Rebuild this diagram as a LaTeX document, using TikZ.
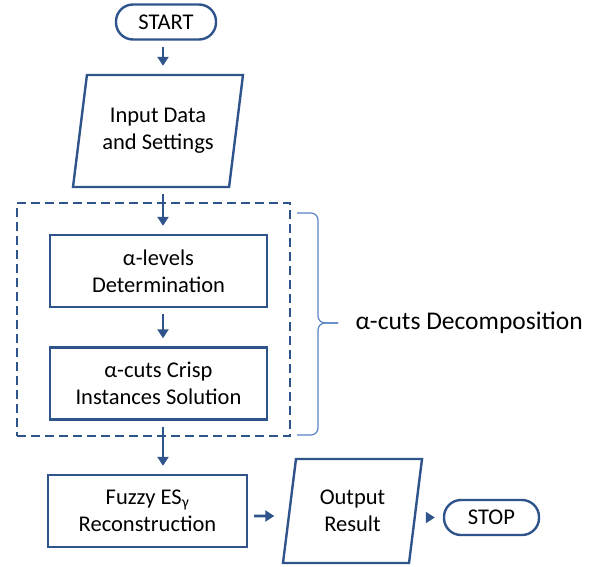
\documentclass[tikz,border=0pt]{standalone}
\usepackage{fontspec}
\setmainfont{Carlito}
\usetikzlibrary{shapes.geometric,arrows.meta}

\definecolor{flowblue}{RGB}{47,84,140}
\definecolor{braceblue}{RGB}{86,130,195}

\tikzset{
  txt/.style={align=center, font=\fontsize{22.5}{27}\selectfont},
  procbox/.style={txt, draw=flowblue, line width=2.4pt, minimum width=217pt, minimum height=72pt},
  termbox/.style={txt, draw=flowblue, line width=2.4pt, rounded corners=17pt, minimum width=100pt, minimum height=35pt},
  iobox/.style={txt, draw=flowblue, line width=2.4pt, trapezium, trapezium left angle=75, trapezium right angle=105, trapezium stretches body=true},
  flow/.style={draw=flowblue, line width=2.8pt, -{Triangle[length=9pt,width=11pt]}, shorten <=6pt, shorten >=8pt}
}

\begin{document}
\begin{tikzpicture}[x=1pt,y=1pt]
        \useasboundingbox (0,0) rectangle (601,566);
        \coordinate (axis) at (163,0);
        % main column
        \node[termbox] (start) at (166,544) {START};
        \node[iobox, minimum width=170pt, minimum height=112pt] (input) at (158,435) {Input Data\\and Settings};
        \node[draw=flowblue, line width=2.4pt, dash pattern=on 9pt off 5pt, minimum width=273pt, minimum height=233pt] (group) at (153.5,246.5) {};
        \node[procbox] (levels) at (158.5,295) {α-levels\\Determination};
        \node[procbox] (crisp) at (158.5,182.5) {α-cuts Crisp\\Instances Solution};
        \node[procbox, minimum width=199pt] (fuzzy) at (147.5,55) {Fuzzy ES\textsubscript{γ}\\Reconstruction};
        \node[iobox, minimum width=139pt, minimum height=104pt] (output) at (352.5,55) {Output\\Result};
        \node[termbox, minimum width=95pt] (stop) at (491.5,48.5) {STOP};
        % brace
        \coordinate (tip) at (338,243);
        \draw[braceblue, line width=1.2pt, rounded corners=7pt] (297,353) -| (318,243) -- (tip);
        \draw[braceblue, line width=1.2pt, rounded corners=7pt] (297,131) -| (318,243) -- (tip);
        \node[anchor=west, font=\fontsize{25.5}{30}\selectfont] (decomp) at (352,243) {α-cuts Decomposition};
        % arrows
        \draw[flow] (start.south -| axis) -- (input.north -| axis);
        \draw[flow] (input.south -| axis) -- (levels.north -| axis);
        \draw[flow] (levels.south -| axis) -- (crisp.north -| axis);
        \draw[flow] (crisp.south -| axis) -- (fuzzy.north -| axis);
        \draw[flow, shorten >=14pt] ([yshift=-5pt]fuzzy.east) -- ([yshift=-5pt]output.west);
        \draw[flow, shorten <=10pt] (output.east |- stop.west) -- (stop.west);
\end{tikzpicture}
\end{document}
